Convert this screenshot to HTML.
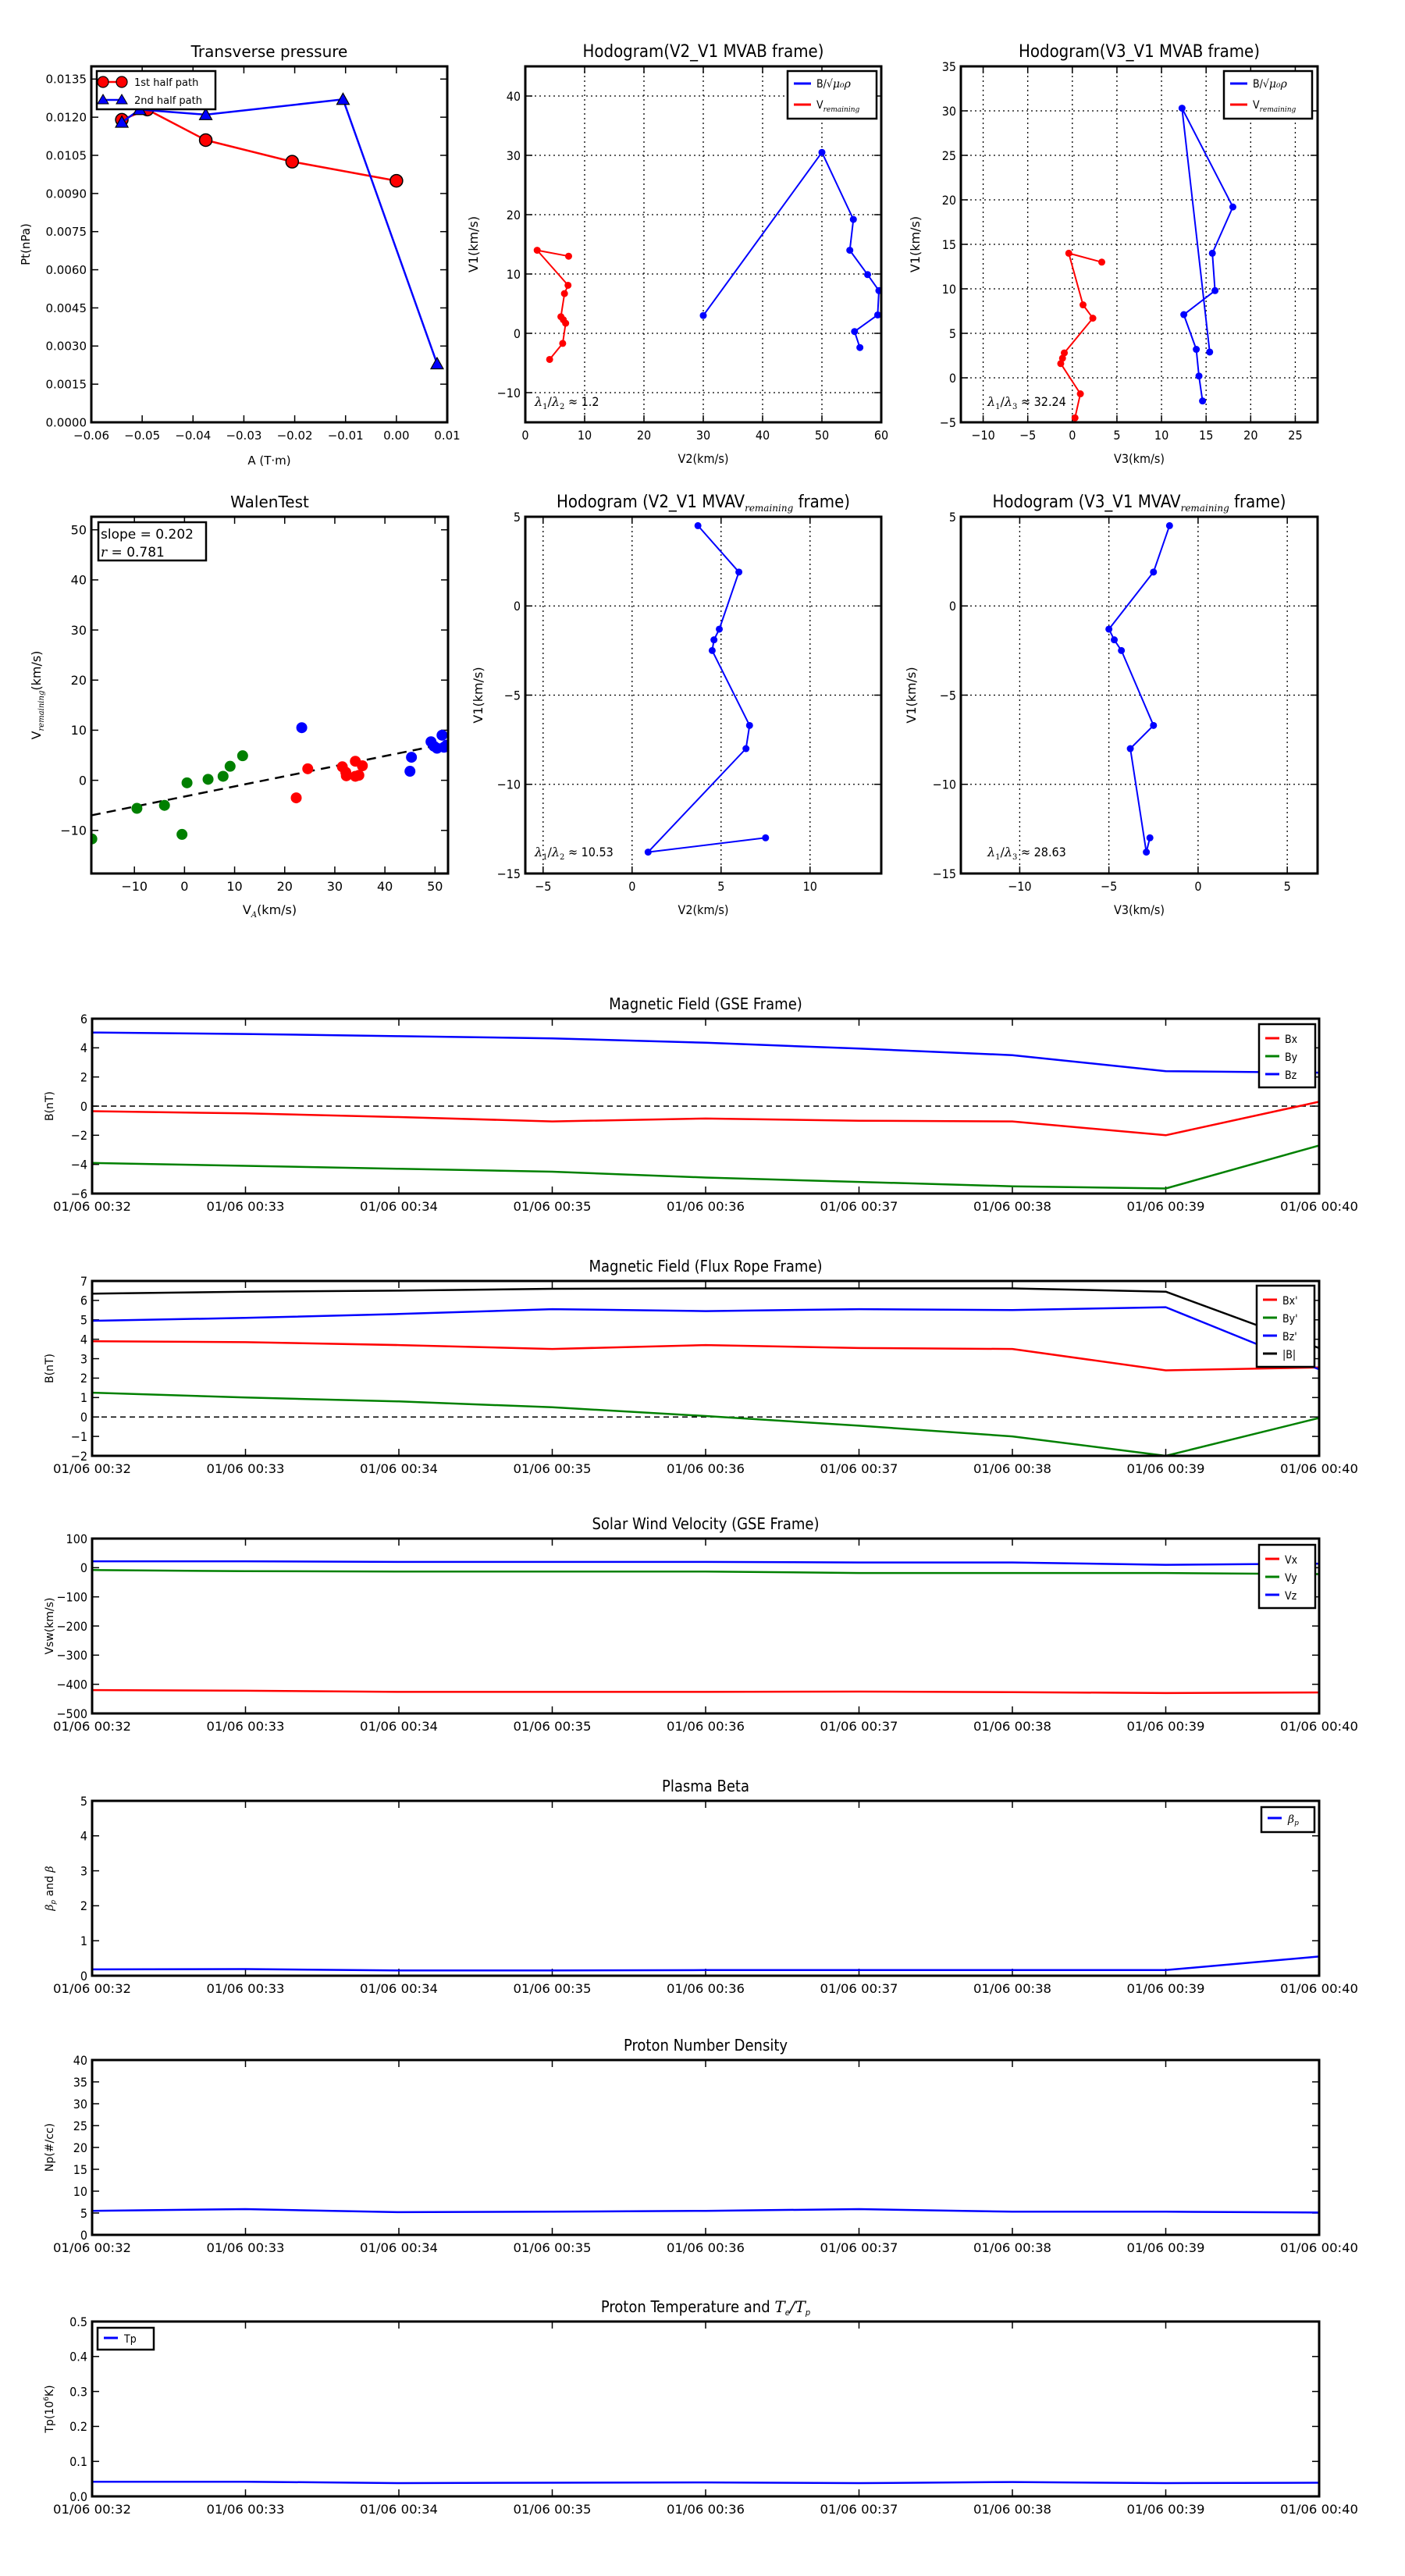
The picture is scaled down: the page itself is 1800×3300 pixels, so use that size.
<!DOCTYPE html>
<html><head><meta charset="utf-8">
<style>
html,body{margin:0;padding:0;background:#fff;}
svg{display:block;}
</style></head>
<body>
<svg id="fig" xmlns="http://www.w3.org/2000/svg" width="1800" height="3300" viewBox="0 0 1800 3300"><rect x="0" y="0" width="1800" height="3300" fill="#fff"/></svg>
<script>
// ---------- data ----------
const tpRedA = [-0.054, -0.049, -0.0375, -0.0205, 0.0];
const tpRedP = [0.0119, 0.0123, 0.0111, 0.01025, 0.0095];
const tpBlueA = [-0.054, -0.0505, -0.0375, -0.0105, 0.008];
const tpBlueP = [0.0118, 0.0123, 0.0121, 0.0127, 0.0023];

const h2BlueX = [30, 50, 55.3, 54.7, 57.7, 59.6, 59.4, 55.5, 56.4];
const h2BlueY = [3, 30.5, 19.2, 14, 9.9, 7.2, 3.1, 0.3, -2.4];
const h2RedX = [7.3, 2, 7.2, 6.6, 6.0, 6.4, 6.8, 6.3, 4.1];
const h2RedY = [13, 14, 8.1, 6.7, 2.8, 2.3, 1.7, -1.7, -4.4];

const h3BlueX = [15.4, 12.3, 18, 15.7, 16, 12.5, 13.9, 14.2, 14.6];
const h3BlueY = [2.9, 30.3, 19.2, 14, 9.8, 7.1, 3.2, 0.2, -2.6];
const h3RedX = [3.3, -0.4, 1.2, 2.3, -0.9, -1.1, -1.3, 0.9, 0.3];
const h3RedY = [13, 14, 8.2, 6.7, 2.8, 2.2, 1.6, -1.8, -4.5];

const wGreenX = [-18.5, -9.5, -4, -0.5, 0.5, 4.7, 7.7, 9.1, 11.6];
const wGreenY = [-11.7, -5.6, -5, -10.8, -0.5, 0.2, 0.8, 2.8, 4.9];
const wRedX = [22.3, 24.6, 31.5, 32.2, 32.3, 34.1, 34.1, 34.8, 35.5];
const wRedY = [-3.5, 2.3, 2.7, 1.6, 0.9, 3.8, 0.8, 1.0, 2.9];
const wBlueX = [23.4, 45, 45.3, 49.2, 49.8, 50.4, 51.4, 51.8, 52.3];
const wBlueY = [10.5, 1.8, 4.6, 7.7, 6.8, 6.4, 9.0, 6.6, 7.0];
const wSlope = 0.202;
const wIntercept = -3.24;

const h5X = [3.7, 6.0, 4.9, 4.6, 4.5, 6.6, 6.4, 0.9, 7.5];
const h5Y = [4.5, 1.9, -1.3, -1.9, -2.5, -6.7, -8.0, -13.8, -13.0];
const h6X = [-1.6, -2.5, -5.0, -4.7, -4.3, -2.5, -3.8, -2.9, -2.7];
const h6Y = [4.5, 1.9, -1.3, -1.9, -2.5, -6.7, -8.0, -13.8, -13.0];

const timeLabels = ["01/06 00:32","01/06 00:33","01/06 00:34","01/06 00:35","01/06 00:36","01/06 00:37","01/06 00:38","01/06 00:39","01/06 00:40"];
const minutes = [0,1,2,3,4,5,6,7,8];

const gseBx = [-0.35,-0.5,-0.75,-1.05,-0.85,-1.0,-1.05,-2.0,0.3];
const gseBy = [-3.9,-4.1,-4.3,-4.5,-4.9,-5.2,-5.5,-5.65,-2.7];
const gseBz = [5.05,4.95,4.8,4.65,4.35,3.95,3.5,2.4,2.3];

const frBx = [3.9,3.85,3.7,3.5,3.7,3.55,3.5,2.4,2.55];
const frBy = [1.25,1.0,0.8,0.5,0.05,-0.45,-1.0,-2.0,-0.05];
const frBz = [4.95,5.1,5.3,5.55,5.45,5.55,5.5,5.65,2.45];
const frBt = [6.35,6.45,6.5,6.6,6.62,6.62,6.62,6.45,3.55];

const vswVx = [-420,-422,-426,-426,-426,-425,-427,-430,-428];
const vswVy = [-8,-12,-13,-13,-13,-18,-18,-18,-22];
const vswVz = [22,22,20,20,20,18,18,10,14];

const betaP = [0.18,0.19,0.15,0.15,0.16,0.16,0.16,0.16,0.55];
const densNp = [5.5,5.9,5.2,5.3,5.5,5.9,5.3,5.3,5.1];
const tempTp = [0.042,0.042,0.038,0.039,0.040,0.038,0.041,0.038,0.039];

// ---------- helpers ----------
const NS = 'http://www.w3.org/2000/svg';
const svg = document.getElementById('fig');
const SANS = '"DejaVu Sans","Liberation Sans",sans-serif';
const COND = '"DejaVu Sans Condensed","Liberation Sans Narrow","DejaVu Sans",sans-serif';
const SERIF = '"DejaVu Serif","Liberation Serif",serif';
let clipId = 0;
function mk(tag, attrs, parent){
  const e = document.createElementNS(NS, tag);
  for (const k in attrs) e.setAttribute(k, attrs[k]);
  (parent || svg).appendChild(e);
  return e;
}
function txt(parent, x, y, s, size, font, anchor, extra){
  const a = {x:x, y:y, 'font-size':size, 'font-family':font, 'text-anchor':anchor||'middle', fill:'#000'};
  if (extra) for (const k in extra) a[k] = extra[k];
  const t = mk('text', a, parent);
  t.textContent = s;
  return t;
}

function axes(name, box, xr, yr, xticks, xlabels, yticks, ylabels, opt){
  const g = mk('g', {});
  
  
  const sx = v => box.x0 + (v - xr[0]) / (xr[1] - xr[0]) * (box.x1 - box.x0);
  const sy = v => box.y1 - (v - yr[0]) / (yr[1] - yr[0]) * (box.y1 - box.y0);
  if (opt.grid){
    xticks.forEach(t => {
      const l = mk('line', {x1:sx(t), x2:sx(t), y1:box.y0, y2:box.y1, stroke:'#000', 'stroke-width':1.3, 'stroke-dasharray':'2,4'}, g);
      
      
    });
    yticks.forEach(t => {
      const l = mk('line', {x1:box.x0, x2:box.x1, y1:sy(t), y2:sy(t), stroke:'#000', 'stroke-width':1.3, 'stroke-dasharray':'2,4'}, g);
      
      
    });
  }
  const tl = 9;
  xticks.forEach((t, i) => {
    const x = sx(t);
    mk('line', {x1:x, x2:x, y1:box.y1, y2:box.y1 - tl, stroke:'#000', 'stroke-width':1.5}, g);
    mk('line', {x1:x, x2:x, y1:box.y0, y2:box.y0 + tl, stroke:'#000', 'stroke-width':1.5}, g);
    const lab = txt(g, x, box.y1 + opt.xlOff, xlabels[i], opt.tickSize, opt.tickFont, 'middle', opt.xTextLen ? {textLength:opt.xTextLen, lengthAdjust:'spacingAndGlyphs'} : null);
    
    
  });
  yticks.forEach((t, i) => {
    const y = sy(t);
    mk('line', {x1:box.x0, x2:box.x0 + tl, y1:y, y2:y, stroke:'#000', 'stroke-width':1.5}, g);
    mk('line', {x1:box.x1, x2:box.x1 - tl, y1:y, y2:y, stroke:'#000', 'stroke-width':1.5}, g);
    const lab = txt(g, box.x0 - 6, y + opt.tickSize * 0.36, ylabels[i], opt.tickSize, opt.tickFont, 'end');
    
    
  });
  clipId++;
  const cp = mk('clipPath', {id:'c' + clipId}, g);
  mk('rect', {x:box.x0, y:box.y0, width:box.x1 - box.x0, height:box.y1 - box.y0}, cp);
  const data = mk('g', {'clip-path':'url(#c' + clipId + ')'}, g);
  
  
  const fr = mk('rect', {x:box.x0, y:box.y0, width:box.x1 - box.x0, height:box.y1 - box.y0, fill:'none', stroke:'#000', 'stroke-width':3});
  
  
  g.appendChild(fr);
  // title
  const tt = txt(g, (box.x0 + box.x1) / 2, box.y0 - opt.titleOff, opt.title, opt.titleSize, opt.titleFont, 'middle');
  
  
  if (opt.titleHtml) tt.innerHTML = opt.titleHtml;
  // x label
  if (opt.xlabel){
    const xl = txt(g, (box.x0 + box.x1) / 2, box.y1 + opt.xlabOff, opt.xlabel, opt.labelSize, opt.labelFont, 'middle');
    
    
    if (opt.xlabelHtml) xl.innerHTML = opt.xlabelHtml;
  }
  if (opt.ylabel){
    const cy = (box.y0 + box.y1) / 2, cx = opt.ylabX;
    const yl = txt(g, cx, cy, opt.ylabel, opt.labelSize, opt.ylabFont || opt.labelFont, 'middle', {transform:'rotate(-90 ' + cx + ' ' + cy + ')'});
    
    
    if (opt.ylabelHtml) yl.innerHTML = opt.ylabelHtml;
  }
  return {sx, sy, g, data};
}

function polyline(ax, xs, ys, color, width, name){
  const pts = xs.map((x, i) => ax.sx(x).toFixed(1) + ',' + ax.sy(ys[i]).toFixed(1)).join(' ');
  const p = mk('polyline', {points:pts, fill:'none', stroke:color, 'stroke-width':width, 'stroke-linejoin':'round'}, ax.data);
  
  
  return p;
}
function dots(ax, xs, ys, color, r, name, stroke){
  xs.forEach((x, i) => {
    const c = mk('circle', {cx:ax.sx(x), cy:ax.sy(ys[i]), r:r, fill:color, stroke:stroke || 'none', 'stroke-width':1.5}, ax.data);
    
    
  });
}
function tris(ax, xs, ys, color, s, name){
  xs.forEach((x, i) => {
    const cx = ax.sx(x), cy = ax.sy(ys[i]);
    const t = mk('polygon', {points:(cx) + ',' + (cy - s) + ' ' + (cx - s) + ',' + (cy + s * 0.8) + ' ' + (cx + s) + ',' + (cy + s * 0.8), fill:color, stroke:'#000', 'stroke-width':1.2}, ax.data);
    
    
  });
}
function legendBox(x, y, w, h){
  const r = mk('rect', {x:x, y:y, width:w, height:h, fill:'#fff', stroke:'#000', 'stroke-width':2.5});
  
  
}
function legendLine(x, y, len, color, w){
  const l = mk('line', {x1:x, x2:x + len, y1:y, y2:y, stroke:color, 'stroke-width':w});
  
  
}
function legendText(x, y, s, size, font, html){
  const t = txt(svg, x, y, s, size, font, 'start');
  
  
  if (html) t.innerHTML = html;
  return t;
}
function rangeTicks(a, b, step){ const r = []; for (let v = a; v <= b + 1e-9; v += step) r.push(+v.toFixed(6)); return r; }
function minus(s){ return String(s).replace('-', '\u2212'); }

// ---------- Plot 1: Transverse pressure ----------
(function(){
  const xt = rangeTicks(-0.06, 0.01, 0.01);
  const yt = rangeTicks(0, 0.0135, 0.0015);
  const ax = axes('transverse-pressure-chart', {x0:117, x1:573, y0:85, y1:541}, [-0.06, 0.01], [0, 0.014],
    xt, xt.map(v => minus(v.toFixed(2))), yt, yt.map(v => v.toFixed(4)),
    {tickSize:15, tickFont:SANS, xlOff:22, title:'Transverse pressure', titleSize:20, titleFont:SANS, titleOff:12,
     xlabel:'A (T\u00b7m)', xlabOff:54, labelSize:15, labelFont:SANS, ylabel:'Pt(nPa)', ylabX:38});
  polyline(ax, tpRedA, tpRedP, '#f00', 2.5, 'first-half-path-line');
  dots(ax, tpRedA, tpRedP, '#f00', 8, 'first-half-path-point', '#000');
  polyline(ax, tpBlueA, tpBlueP, '#00f', 2.5, 'second-half-path-line');
  tris(ax, tpBlueA, tpBlueP, '#00f', 8, 'second-half-path-point');
  legendBox(124, 91, 152, 49);
  legendLine(132, 105, 26, '#f00', 2.5);
  mk('circle', {cx:132, cy:105, r:7, fill:'#f00', stroke:'#000', 'stroke-width':1.2});
  mk('circle', {cx:156, cy:105, r:7, fill:'#f00', stroke:'#000', 'stroke-width':1.2});
  legendText(172, 110, '1st half path', 13, SANS);
  legendLine(132, 128, 26, '#00f', 2.5);
  mk('polygon', {points:'132,121 125,133 139,133', fill:'#00f', stroke:'#000', 'stroke-width':1});
  mk('polygon', {points:'156,121 149,133 163,133', fill:'#00f', stroke:'#000', 'stroke-width':1});
  legendText(172, 133, '2nd half path', 13, SANS);
})();

// ---------- Plot 2: Hodogram V2_V1 MVAB ----------
(function(){
  const xt = rangeTicks(0, 60, 10);
  const yt = rangeTicks(-10, 40, 10);
  const ax = axes('hodogram-v2-v1-mvab-chart', {x0:673, x1:1129, y0:85, y1:541}, [0, 60], [-15, 45],
    xt, xt.map(String), yt, yt.map(minus),
    {grid:true, tickSize:16, tickFont:COND, xlOff:22, title:'Hodogram(V2_V1 MVAB frame)', titleSize:22, titleFont:COND, titleOff:12,
     xlabel:'V2(km/s)', xlabOff:52, labelSize:16, labelFont:COND, ylabel:'V1(km/s)', ylabX:612, ylabFont:SANS});
  polyline(ax, h2BlueX, h2BlueY, '#00f', 2, 'b-alfven-line');
  dots(ax, h2BlueX, h2BlueY, '#00f', 4.5, 'b-alfven-point');
  polyline(ax, h2RedX, h2RedY, '#f00', 2, 'v-remaining-line');
  dots(ax, h2RedX, h2RedY, '#f00', 4.5, 'v-remaining-point');
  const ann = txt(svg, 685, 520, '', 16, SERIF, 'start');
  
  
  ann.innerHTML = '<tspan font-style="italic">λ</tspan><tspan font-size="10" dy="4">1</tspan><tspan dy="-4">/</tspan><tspan font-style="italic">λ</tspan><tspan font-size="10" dy="4">2</tspan><tspan dy="-4" font-family=\'"DejaVu Sans Condensed",sans-serif\'> ≈ 1.2</tspan>';
  legendBox(1009, 91, 114, 61);
  legendLine(1017, 107, 22, '#00f', 3);
  legendText(1046, 112, '', 14, COND, 'B/√<tspan font-style="italic" font-family=\'"DejaVu Serif",serif\'>μ₀ρ</tspan>');
  legendLine(1017, 134, 22, '#f00', 3);
  legendText(1046, 139, '', 14, COND, 'V<tspan font-size="9" dy="4" font-style="italic" font-family=\'"DejaVu Serif",serif\'>remaining</tspan>');
})();

// ---------- Plot 3: Hodogram V3_V1 MVAB ----------
(function(){
  const xt = rangeTicks(-10, 25, 5);
  const yt = rangeTicks(-5, 35, 5);
  const ax = axes('hodogram-v3-v1-mvab-chart', {x0:1231, x1:1688, y0:85, y1:541}, [-12.5, 27.5], [-5, 35],
    xt, xt.map(minus), yt, yt.map(minus),
    {grid:true, tickSize:16, tickFont:COND, xlOff:22, title:'Hodogram(V3_V1 MVAB frame)', titleSize:22, titleFont:COND, titleOff:12,
     xlabel:'V3(km/s)', xlabOff:52, labelSize:16, labelFont:COND, ylabel:'V1(km/s)', ylabX:1178, ylabFont:SANS});
  polyline(ax, h3BlueX, h3BlueY, '#00f', 2, 'b-alfven-line');
  dots(ax, h3BlueX, h3BlueY, '#00f', 4.5, 'b-alfven-point');
  polyline(ax, h3RedX, h3RedY, '#f00', 2, 'v-remaining-line');
  dots(ax, h3RedX, h3RedY, '#f00', 4.5, 'v-remaining-point');
  const ann = txt(svg, 1265, 520, '', 16, SERIF, 'start');
  
  
  ann.innerHTML = '<tspan font-style="italic">λ</tspan><tspan font-size="10" dy="4">1</tspan><tspan dy="-4">/</tspan><tspan font-style="italic">λ</tspan><tspan font-size="10" dy="4">3</tspan><tspan dy="-4" font-family=\'"DejaVu Sans Condensed",sans-serif\'> ≈ 32.24</tspan>';
  legendBox(1568, 91, 113, 61);
  legendLine(1576, 107, 22, '#00f', 3);
  legendText(1605, 112, '', 14, COND, 'B/√<tspan font-style="italic" font-family=\'"DejaVu Serif",serif\'>μ₀ρ</tspan>');
  legendLine(1576, 134, 22, '#f00', 3);
  legendText(1605, 139, '', 14, COND, 'V<tspan font-size="9" dy="4" font-style="italic" font-family=\'"DejaVu Serif",serif\'>remaining</tspan>');
})();

// ---------- Plot 4: Walen test ----------
(function(){
  const xt = rangeTicks(-10, 50, 10);
  const yt = rangeTicks(-10, 50, 10);
  const ax = axes('walen-test-chart', {x0:117, x1:574, y0:662, y1:1119}, [-18.6, 52.6], [-18.6, 52.6],
    xt, xt.map(minus), yt, yt.map(minus),
    {tickSize:16, tickFont:SANS, xlOff:22, title:'WalenTest', titleSize:20, titleFont:SANS, titleOff:12,
     xlabel:'V_A(km/s)', xlabelHtml:'V<tspan font-size="10" dy="4" font-style="italic" font-family=\'"DejaVu Serif",serif\'>A</tspan><tspan dy="-4">(km/s)</tspan>', xlabOff:52, labelSize:16, labelFont:SANS,
     ylabel:'Vremaining(km/s)', ylabelHtml:'V<tspan font-size="10" dy="4" font-style="italic" font-family=\'"DejaVu Serif",serif\'>remaining</tspan><tspan dy="-4">(km/s)</tspan>', ylabX:52});
  const fx = [-18.6, 52.6];
  const fy = fx.map(x => wSlope * x + wIntercept);
  const fl = polyline(ax, fx, fy, '#000', 2.5, 'walen-fit-line');
  fl.setAttribute('stroke-dasharray', '12,8');
  dots(ax, wGreenX, wGreenY, '#008000', 7, 'walen-point-green');
  dots(ax, wRedX, wRedY, '#f00', 7, 'walen-point-red');
  dots(ax, wBlueX, wBlueY, '#00f', 7, 'walen-point-blue');
  const b = mk('rect', {x:126, y:669, width:138, height:49, fill:'#fff', stroke:'#000', 'stroke-width':2.5});
  
  
  const t1 = txt(svg, 129, 690, 'slope = 0.202', 17, SANS, 'start');
  
  
  const t2 = txt(svg, 129, 713, '', 17, SANS, 'start');
  
  
  t2.innerHTML = '<tspan font-style="italic" font-family=\'"DejaVu Serif",serif\'>r</tspan> = 0.781';
})();

// ---------- Plot 5: Hodogram V2_V1 MVAV ----------
(function(){
  const xt = [-5, 0, 5, 10];
  const yt = [-15, -10, -5, 0, 5];
  const ax = axes('hodogram-v2-v1-mvav-chart', {x0:673, x1:1129, y0:662, y1:1119}, [-6, 14], [-15, 5],
    xt, xt.map(minus), yt, yt.map(minus),
    {grid:true, tickSize:16, tickFont:COND, xlOff:22, title:'', titleHtml:'Hodogram (V2_V1 MVAV<tspan font-size="12" dy="5" font-style="italic" font-family=\'"DejaVu Serif",serif\'>remaining</tspan><tspan dy="-5"> frame)</tspan>', titleSize:22, titleFont:COND, titleOff:12,
     xlabel:'V2(km/s)', xlabOff:52, labelSize:16, labelFont:COND, ylabel:'V1(km/s)', ylabX:618, ylabFont:SANS});
  polyline(ax, h5X, h5Y, '#00f', 2, 'hodogram-line');
  dots(ax, h5X, h5Y, '#00f', 4.5, 'hodogram-point');
  const ann = txt(svg, 685, 1097, '', 16, SERIF, 'start');
  
  
  ann.innerHTML = '<tspan font-style="italic">λ</tspan><tspan font-size="10" dy="4">1</tspan><tspan dy="-4">/</tspan><tspan font-style="italic">λ</tspan><tspan font-size="10" dy="4">2</tspan><tspan dy="-4" font-family=\'"DejaVu Sans Condensed",sans-serif\'> ≈ 10.53</tspan>';
})();

// ---------- Plot 6: Hodogram V3_V1 MVAV ----------
(function(){
  const xt = [-10, -5, 0, 5];
  const yt = [-15, -10, -5, 0, 5];
  const ax = axes('hodogram-v3-v1-mvav-chart', {x0:1231, x1:1688, y0:662, y1:1119}, [-13.3, 6.7], [-15, 5],
    xt, xt.map(minus), yt, yt.map(minus),
    {grid:true, tickSize:16, tickFont:COND, xlOff:22, title:'', titleHtml:'Hodogram (V3_V1 MVAV<tspan font-size="12" dy="5" font-style="italic" font-family=\'"DejaVu Serif",serif\'>remaining</tspan><tspan dy="-5"> frame)</tspan>', titleSize:22, titleFont:COND, titleOff:12,
     xlabel:'V3(km/s)', xlabOff:52, labelSize:16, labelFont:COND, ylabel:'V1(km/s)', ylabX:1173, ylabFont:SANS});
  polyline(ax, h6X, h6Y, '#00f', 2, 'hodogram-line');
  dots(ax, h6X, h6Y, '#00f', 4.5, 'hodogram-point');
  const ann = txt(svg, 1265, 1097, '', 16, SERIF, 'start');
  
  
  ann.innerHTML = '<tspan font-style="italic">λ</tspan><tspan font-size="10" dy="4">1</tspan><tspan dy="-4">/</tspan><tspan font-style="italic">λ</tspan><tspan font-size="10" dy="4">3</tspan><tspan dy="-4" font-family=\'"DejaVu Sans Condensed",sans-serif\'> ≈ 28.63</tspan>';
})();

// ---------- Time series ----------
function tsAxes(name, top, yr, yt, ylabs, title, ylabel, titleHtml, ylabelHtml){
  return axes(name, {x0:118, x1:1690, y0:top, y1:top + 224}, [0, 8], yr,
    minutes, timeLabels, yt, ylabs,
    {tickSize:16, tickFont:COND, xlOff:22, xTextLen:100, title:title, titleHtml:titleHtml, titleSize:20, titleFont:COND, titleOff:12,
     labelSize:14, labelFont:SANS, ylabel:ylabel, ylabelHtml:ylabelHtml, ylabX:68});
}
function tsLegend(x, y, w, entries, html){
  legendBox(x, y, w, entries.length * 23 + 12);
  entries.forEach((e, i) => {
    legendLine(x + 8, y + 18 + i * 23, 18, e[1], 3);
    legendText(x + 33, y + 24 + i * 23, e[0], 14, COND, html ? html[i] : null);
  });
}
function zeroLine(ax){
  const l = mk('line', {x1:ax.sx(0), x2:ax.sx(8), y1:ax.sy(0), y2:ax.sy(0), stroke:'#000', 'stroke-width':1.5, 'stroke-dasharray':'7,5'}, ax.data);
  
  
}

(function(){
  const yt = rangeTicks(-6, 6, 2);
  const ax = tsAxes('magnetic-field-gse-chart', 1305, [-6, 6], yt, yt.map(minus), 'Magnetic Field (GSE Frame)', 'B(nT)');
  zeroLine(ax);
  polyline(ax, minutes, gseBx, '#f00', 2.5, 'bx-line');
  polyline(ax, minutes, gseBy, '#008000', 2.5, 'by-line');
  polyline(ax, minutes, gseBz, '#00f', 2.5, 'bz-line');
  tsLegend(1613, 1312, 72, [['Bx','#f00'],['By','#008000'],['Bz','#00f']]);
})();

(function(){
  const yt = rangeTicks(-2, 7, 1);
  const ax = tsAxes('magnetic-field-flux-rope-chart', 1641, [-2, 7], yt, yt.map(minus), 'Magnetic Field (Flux Rope Frame)', 'B(nT)');
  zeroLine(ax);
  polyline(ax, minutes, frBx, '#f00', 2.5, 'bx-prime-line');
  polyline(ax, minutes, frBy, '#008000', 2.5, 'by-prime-line');
  polyline(ax, minutes, frBz, '#00f', 2.5, 'bz-prime-line');
  polyline(ax, minutes, frBt, '#000', 2.5, 'b-magnitude-line');
  tsLegend(1610, 1647, 74, [["Bx'",'#f00'],["By'",'#008000'],["Bz'",'#00f'],['|B|','#000']]);
})();

(function(){
  const yt = rangeTicks(-500, 100, 100);
  const ax = tsAxes('solar-wind-velocity-chart', 1971, [-500, 100], yt, yt.map(minus), 'Solar Wind Velocity (GSE Frame)', 'Vsw(km/s)');
  polyline(ax, minutes, vswVx, '#f00', 2.5, 'vx-line');
  polyline(ax, minutes, vswVy, '#008000', 2.5, 'vy-line');
  polyline(ax, minutes, vswVz, '#00f', 2.5, 'vz-line');
  tsLegend(1613, 1979, 72, [['Vx','#f00'],['Vy','#008000'],['Vz','#00f']]);
})();

(function(){
  const yt = rangeTicks(0, 5, 1);
  const ax = tsAxes('plasma-beta-chart', 2307, [0, 5], yt, yt.map(String), 'Plasma Beta', 'beta_p and beta', null,
    '<tspan font-style="italic" font-family=\'"DejaVu Serif",serif\'>β</tspan><tspan font-size="9" dy="3" font-style="italic">p</tspan><tspan dy="-3"> and </tspan><tspan font-style="italic" font-family=\'"DejaVu Serif",serif\'>β</tspan>');
  polyline(ax, minutes, betaP, '#00f', 2.5, 'beta-p-line');
  legendBox(1616, 2315, 68, 32);
  legendLine(1624, 2329, 18, '#00f', 3);
  legendText(1650, 2335, '', 14, SERIF, '<tspan font-style="italic">β</tspan><tspan font-size="9" dy="3" font-style="italic">p</tspan>');
})();

(function(){
  const yt = rangeTicks(0, 40, 5);
  const ax = tsAxes('proton-density-chart', 2639, [0, 40], yt, yt.map(String), 'Proton Number Density', 'Np(#/cc)');
  polyline(ax, minutes, densNp, '#00f', 2.5, 'np-line');
})();

(function(){
  const yt = rangeTicks(0, 0.5, 0.1);
  const ax = tsAxes('proton-temperature-chart', 2974, [0, 0.5], yt, yt.map(v => v.toFixed(1)), '', 'Tp(10^6K)',
    'Proton Temperature and <tspan font-style="italic" font-family=\'"DejaVu Serif",serif\'>T</tspan><tspan font-size="11" dy="4" font-style="italic">e</tspan><tspan dy="-4" font-family=\'"DejaVu Serif",serif\' font-style="italic">/T</tspan><tspan font-size="11" dy="4" font-style="italic">p</tspan>',
    'Tp(10<tspan font-size="9" dy="-6">6</tspan><tspan dy="6">K)</tspan>');
  polyline(ax, minutes, tempTp, '#00f', 2.5, 'tp-line');
  legendBox(125, 2982, 72, 28);
  legendLine(133, 2995, 18, '#00f', 3);
  legendText(159, 3001, 'Tp', 14, COND);
})();
</script>
</body></html>
